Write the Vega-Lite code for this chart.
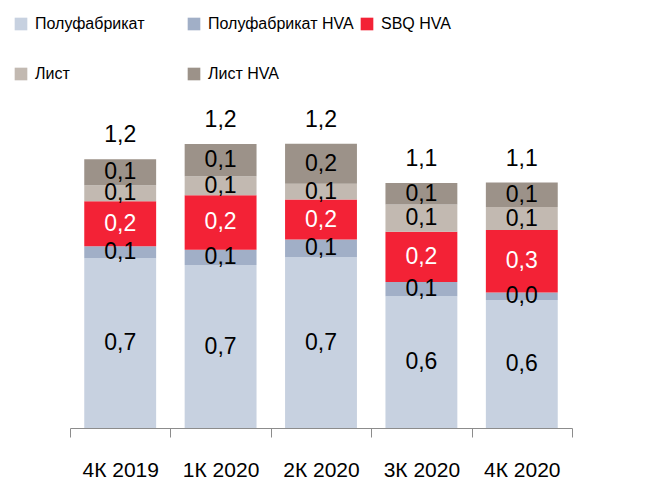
{
  "$schema": "https://vega.github.io/schema/vega-lite/v6.json",
  "width": 502,
  "height": 323,
  "autosize": {"type": "none"},
  "padding": {"left": 70, "top": 105, "right": 85, "bottom": 54},
  "config": {
    "view": {"stroke": null},
    "locale": {"number": {"decimal": ",", "thousands": " ", "grouping": [3], "currency": ["", ""]}}
  },
  "data": {
    "values": [
      {"quarter": "4К 2019", "series": "Полуфабрикат", "ord": 1, "value": 0.736},
      {"quarter": "4К 2019", "series": "Полуфабрикат HVA", "ord": 2, "value": 0.052},
      {"quarter": "4К 2019", "series": "SBQ HVA", "ord": 3, "value": 0.195},
      {"quarter": "4К 2019", "series": "Лист", "ord": 4, "value": 0.069},
      {"quarter": "4К 2019", "series": "Лист HVA", "ord": 5, "value": 0.113},
      {"quarter": "1К 2020", "series": "Полуфабрикат", "ord": 1, "value": 0.706},
      {"quarter": "1К 2020", "series": "Полуфабрикат HVA", "ord": 2, "value": 0.067},
      {"quarter": "1К 2020", "series": "SBQ HVA", "ord": 3, "value": 0.236},
      {"quarter": "1К 2020", "series": "Лист", "ord": 4, "value": 0.082},
      {"quarter": "1К 2020", "series": "Лист HVA", "ord": 5, "value": 0.140},
      {"quarter": "2К 2020", "series": "Полуфабрикат", "ord": 1, "value": 0.740},
      {"quarter": "2К 2020", "series": "Полуфабрикат HVA", "ord": 2, "value": 0.077},
      {"quarter": "2К 2020", "series": "SBQ HVA", "ord": 3, "value": 0.173},
      {"quarter": "2К 2020", "series": "Лист", "ord": 4, "value": 0.069},
      {"quarter": "2К 2020", "series": "Лист HVA", "ord": 5, "value": 0.173},
      {"quarter": "3К 2020", "series": "Полуфабрикат", "ord": 1, "value": 0.571},
      {"quarter": "3К 2020", "series": "Полуфабрикат HVA", "ord": 2, "value": 0.062},
      {"quarter": "3К 2020", "series": "SBQ HVA", "ord": 3, "value": 0.218},
      {"quarter": "3К 2020", "series": "Лист", "ord": 4, "value": 0.118},
      {"quarter": "3К 2020", "series": "Лист HVA", "ord": 5, "value": 0.093},
      {"quarter": "4К 2020", "series": "Полуфабрикат", "ord": 1, "value": 0.555},
      {"quarter": "4К 2020", "series": "Полуфабрикат HVA", "ord": 2, "value": 0.032},
      {"quarter": "4К 2020", "series": "SBQ HVA", "ord": 3, "value": 0.271},
      {"quarter": "4К 2020", "series": "Лист", "ord": 4, "value": 0.100},
      {"quarter": "4К 2020", "series": "Лист HVA", "ord": 5, "value": 0.106}
    ]
  },
  "encoding": {
    "x": {
      "field": "quarter",
      "type": "nominal",
      "sort": ["4К 2019", "1К 2020", "2К 2020", "3К 2020", "4К 2020"],
      "scale": {"paddingInner": 0, "paddingOuter": 0},
      "axis": {
        "title": null,
        "labelAngle": 0,
        "domainColor": "#8c8c8c",
        "tickColor": "#8c8c8c",
        "tickSize": 9,
        "tickBand": "extent",
        "labelFont": "Liberation Sans",
        "labelFontSize": 21,
        "labelColor": "black",
        "labelPadding": 22
      }
    }
  },
  "layer": [
    {
      "mark": {"type": "bar", "width": {"band": 0.716}},
      "encoding": {
        "y": {
          "field": "value",
          "type": "quantitative",
          "stack": "zero",
          "scale": {"domain": [0, 1.4], "nice": false},
          "axis": null
        },
        "color": {
          "field": "series",
          "type": "nominal",
          "scale": {
            "domain": ["Полуфабрикат", "Полуфабрикат HVA", "SBQ HVA", "Лист", "Лист HVA"],
            "range": ["#c7d1e0", "#a1afc7", "#f32236", "#c2b9b1", "#9c9289"]
          },
          "legend": {
            "title": null,
            "orient": "none",
            "direction": "horizontal",
            "legendX": -57,
            "legendY": -89,
            "columns": 3,
            "gridAlign": "all",
            "columnPadding": 5,
            "rowPadding": 34,
            "symbolType": "square",
            "symbolSize": 160,
            "symbolStrokeWidth": 0,
            "labelFont": "Liberation Sans",
            "labelFontSize": 16,
            "labelColor": "black",
            "labelOffset": 6,
            "labelLimit": 300
          }
        },
        "order": {"field": "ord", "type": "quantitative"}
      }
    },
    {
      "mark": {"type": "text", "font": "Liberation Sans", "fontSize": 23, "baseline": "middle"},
      "encoding": {
        "y": {"field": "value", "type": "quantitative", "stack": "zero", "bandPosition": 0.5},
        "detail": {"field": "series"},
        "order": {"field": "ord", "type": "quantitative"},
        "text": {"field": "value", "type": "quantitative", "format": ".1f"},
        "color": {"condition": {"test": "datum.series === 'SBQ HVA'", "value": "white"}, "value": "black"}
      }
    },
    {
      "mark": {"type": "text", "font": "Liberation Sans", "fontSize": 23, "baseline": "middle", "dy": -24, "color": "black"},
      "encoding": {
        "y": {"aggregate": "sum", "field": "value", "type": "quantitative", "stack": null},
        "text": {"aggregate": "sum", "field": "value", "type": "quantitative", "format": ".1f"}
      }
    }
  ]
}
